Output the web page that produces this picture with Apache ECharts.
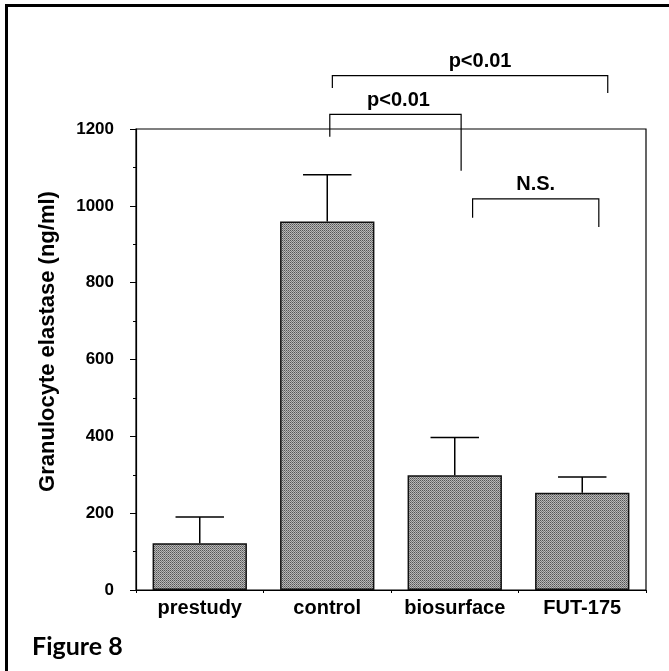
<!DOCTYPE html>
<html>
<head>
<meta charset="utf-8">
<script src="https://cdn.jsdelivr.net/npm/echarts@6/dist/echarts.min.js"></script>
<style>
html, body { margin: 0; padding: 0; background: #fff; }
#main { width: 669px; height: 671px; }
</style>
</head>
<body>
<div id="main"></div>
<script>
// data
var groups = ['prestudy', 'control', 'biosurface', 'FUT-175'];
var means = [122, 959, 299, 253];
var upperErr = [190, 1081, 397, 294];
var yTicks = [0, 200, 400, 600, 800, 1000, 1200];

// significance brackets: from group, to group, level, left leg end, right leg end
var brFrom = [1, 1, 2];
var brTo = [3, 2, 3];
var brLevel = [1339, 1238, 1018];
var brLegLeft = [1307, 1180, 969];
var brLegRight = [1294, 1091, 945];
var brText = ['p<0.01', 'p<0.01', 'N.S.'];

// halftone fill for the bars
var pat = document.createElement('canvas');
pat.width = 2; pat.height = 2;
var pc = pat.getContext('2d');
pc.fillStyle = '#555555'; pc.fillRect(0, 0, 1, 1);
pc.fillStyle = '#b4b4b4'; pc.fillRect(1, 0, 1, 1);
pc.fillStyle = '#bcbcbc'; pc.fillRect(0, 1, 1, 1);
pc.fillStyle = '#7a7a7a'; pc.fillRect(1, 1, 1, 1);

var font = 'Liberation Sans';

var errData = groups.map(function (g, i) { return [i, means[i], upperErr[i]]; });
var brData = brFrom.map(function (f, i) { return [f, brTo[i], brLevel[i], brLegLeft[i], brLegRight[i], i]; });

// little nudges for the bracket ends (fraction of a category)
var brOffL = [0.04, 0.02, 0.14];
var brOffR = [0.2, 0.05, 0.13];
var brTextShift = [10, 3, 0];

option = {
	backgroundColor: '#fff',
	animation: false,
	grid: {
		left: 136,
		right: 23,
		top: 129,
		bottom: 81,
		show: true,
		borderColor: '#000',
		borderWidth: 1.2
	},
	graphic: [
		{
			type: 'rect',
			shape: { x: 6.5, y: 5.5, width: 800, height: 800 },
			style: { fill: 'none', stroke: '#000', lineWidth: 3 }
		},
		{
			type: 'text',
			left: 32,
			top: 634,
			style: { text: 'Figure 8', fontFamily: 'Lato', fontWeight: 'bold', fontSize: 25, fill: '#000' }
		}
	],
	xAxis: {
		type: 'category',
		data: groups,
		boundaryGap: true,
		axisLine: { lineStyle: { color: '#000', width: 1.2 } },
		axisTick: { show: true, length: 3, interval: 0, lineStyle: { color: '#000' } },
		axisLabel: { interval: 0, color: '#000', fontFamily: font, fontWeight: 'bold', fontSize: 20, margin: 8 }
	},
	yAxis: {
		type: 'value',
		min: yTicks[0],
		max: yTicks[yTicks.length - 1],
		interval: 200,
		name: 'Granulocyte elastase (ng/ml)',
		nameLocation: 'middle',
		nameGap: 77,
		nameTextStyle: { color: '#000', fontFamily: font, fontWeight: 'bold', fontSize: 22, padding: [0, 0, 0, 36] },
		axisLine: { show: true, lineStyle: { color: '#000', width: 1.2 } },
		axisTick: { show: true, length: 6, lineStyle: { color: '#000' } },
		minorTick: { show: true, splitNumber: 2, length: 3, lineStyle: { color: '#000' } },
		splitLine: { show: false },
		axisLabel: {
			color: '#000', fontFamily: font, fontWeight: 'bold', fontSize: 17, margin: 22,
			formatter: function (v) { return String(v); }
		}
	},
	series: [
		{
			type: 'bar',
			data: means,
			barWidth: '74%',
			itemStyle: {
				color: { image: pat, repeat: 'repeat' },
				borderColor: '#111',
				borderWidth: 1.5
			},
			z: 2
		},
		{
			// upper error bars
			type: 'custom',
			data: errData,
			z: 3,
			renderItem: function (params, api) {
				var x = api.value(0);
				var p0 = api.coord([x, api.value(1)]);
				var p1 = api.coord([x, api.value(2)]);
				var hw = api.size([1, 0])[0] * 0.19;
				return {
					type: 'group',
					children: [
						{ type: 'line', shape: { x1: p0[0], y1: p0[1], x2: p1[0], y2: p1[1] }, style: { stroke: '#000', lineWidth: 1.5 } },
						{ type: 'line', shape: { x1: p1[0] - hw, y1: p1[1], x2: p1[0] + hw, y2: p1[1] }, style: { stroke: '#000', lineWidth: 1.5 } }
					]
				};
			}
		},
		{
			// significance brackets above the plot
			type: 'custom',
			data: brData,
			clip: false,
			z: 4,
			renderItem: function (params, api) {
				var k = api.value(5);
				var cw = api.size([1, 0])[0];
				var a = api.coord([api.value(0), api.value(2)]);
				var b = api.coord([api.value(1), api.value(2)]);
				var x1 = a[0] + brOffL[k] * cw;
				var x2 = b[0] + brOffR[k] * cw;
				var y = a[1];
				var yl = api.coord([api.value(0), api.value(3)])[1];
				var yr = api.coord([api.value(1), api.value(4)])[1];
				return {
					type: 'group',
					children: [
						{ type: 'polyline', shape: { points: [[x1, yl], [x1, y], [x2, y], [x2, yr]] }, style: { stroke: '#000', lineWidth: 1.2, fill: null } },
						{ type: 'text', style: { text: brText[k], x: (x1 + x2) / 2 + brTextShift[k], y: y - 14, align: 'center', verticalAlign: 'middle', fontFamily: font, fontWeight: 'bold', fontSize: 20, fill: '#000' } }
					]
				};
			}
		}
	]
};

var myChart = echarts.init(document.getElementById('main'));
myChart.setOption(option);
</script>
</body>
</html>
